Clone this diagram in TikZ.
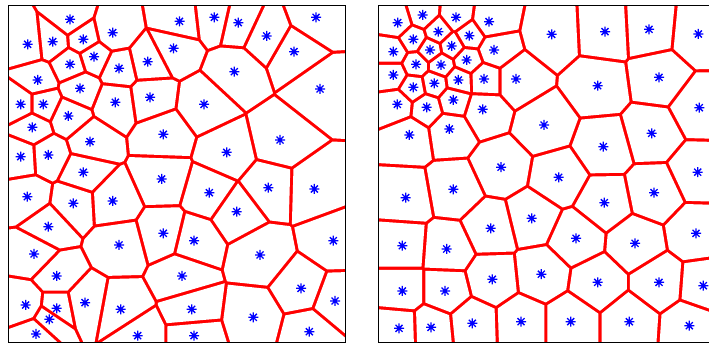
\documentclass[tikz,border=0pt]{standalone}
\tikzset{
  vorline/.style={fill={rgb,255:red,255;green,0;blue,0}},
  cellfill/.style={fill=white},
  panelframe/.style={draw=black, line width=1pt},
  asterisk/.style={draw={rgb,255:red,0;green,0;blue,255}, line width=1.35pt},
}
\def\hw{1.6}
\def\leftsites{70/19.3, 27.7/44.3, 52.7/41.7, 83.3/39.3, 112.7/32.7, 173.5/48.3, 179.5/21.3, 94/56.7, 70/64.3, 119/68.3, 147.7/61.7, 37.7/80, 80/88.3, 20.7/104.3, 43.3/104.3, 115.3/102.3, 150/97.3, 68.3/116, 32.3/127.3, 163.3/134.3, 90/141.7, 20.7/156.7, 48.3/155, 83.3/172.3, 161.7/179, 214.3/17.3, 238.3/22.7, 266.7/36, 316/17.3, 294/51.7, 234.3/71.7, 320/89, 204/104.3, 280/140, 226.7/152.3, 27.3/196.7, 73.3/203.3, 112.7/201, 48.3/226.7, 163.3/233.3, 119/245, 34/254, 56.7/276, 182/276, 25.7/305, 56.7/308.3, 85/302.7, 120.7/309.3, 49.3/319.3, 36/334, 137.7/335.7, 209.3/192.7, 268.3/187.7, 314.3/189, 236.7/211.7, 194/240.7, 333.3/240.7, 260/255, 301/288.3, 335/301, 191.7/309.3, 253.3/317.3, 194/335.7, 309.3/331.7}
\def\rightsites{397.7/22.7, 422.7/15, 456/17.3, 489/21.7, 413.3/39.3, 438.3/31.7, 469.3/35.7, 393.3/51.7, 430/50, 451.7/46, 494/50, 416/64.3, 441/65, 466.7/60, 393.3/75, 413.3/87.3, 434.3/83.3, 458.3/80, 484/79, 516/79, 397.3/104.3, 426.7/107.3, 453.3/100, 482.7/109.3, 544/125, 409.3/135, 449.3/129, 501/167.2, 551.7/34.3, 605/31.7, 649/29.3, 698.3/34, 597.7/85.7, 659/77.3, 699.3/107.7, 651.7/133.3, 603.3/146.7, 558.7/177.3, 697.7/172.2, 453.3/189.3, 405.7/197.7, 531.7/218.3, 490.7/228.3, 402.3/245.7, 446.7/249, 541.3/274.2, 492.3/279.3, 402.3/291, 445/291, 399/328.3, 431/327.3, 472.3/323.3, 521/321.7, 654/192.7, 604.3/202.7, 576/238.3, 635/243.3, 696/233.3, 597.7/282.3, 659/282.3, 703.3/285.7, 570.7/321.7, 629.3/321.7, 689.3/325.7}
\newcommand\vorcells[5]{%
  \fill[vorline] (#2,#3) rectangle (#4,#5);
  \foreach \xa/\ya in #1 {%
    \begin{scope}
      \clip (#2,#3) rectangle (#4,#5);
      \foreach \xb/\yb in #1 {%
        \pgfmathsetmacro\vdd{abs(\xb-\xa)+abs(\yb-\ya)}%
        \ifdim\vdd pt>0.01pt
         \ifdim\vdd pt<420pt
          \pgfmathsetmacro\vdx{(\xb-\xa)/100}%
          \pgfmathsetmacro\vdy{(\yb-\ya)/100}%
          \pgfmathsetmacro\vlen{sqrt(\vdx*\vdx+\vdy*\vdy)}%
          \pgfmathsetmacro\vux{\vdx/\vlen}%
          \pgfmathsetmacro\vuy{\vdy/\vlen}%
          \pgfmathsetmacro\vmx{(\xa+\xb)/2-\hw*\vux}%
          \pgfmathsetmacro\vmy{(\ya+\yb)/2-\hw*\vuy}%
          \clip ({\vmx-1000*\vuy},{\vmy+1000*\vux}) -- ({\vmx+1000*\vuy},{\vmy-1000*\vux}) -- ({\vmx-1000*\vux},{\vmy-1000*\vuy}) -- cycle;
         \fi
        \fi
      }%
      \fill[cellfill] (#2,#3) rectangle (#4,#5);
    \end{scope}
  }%
  \foreach \xa/\ya in #1 {%
    \path[asterisk] (\xa,\ya) +(-5,0) -- +(5,0) +(0,-5) -- +(0,5) +(-3.5,-3.5) -- +(3.5,3.5) +(-3.5,3.5) -- +(3.5,-3.5);
  }%
  \draw[panelframe] (#2,#3) rectangle (#4,#5);
}
\begin{document}
\begin{tikzpicture}[x=1pt,y=-1pt]
\useasboundingbox (0,0) rectangle (709,344);
\fill[white] (0,0) rectangle (709,344);
\vorcells{\leftsites}{8.5}{6}{345.7}{342.7}
\vorcells{\rightsites}{378.3}{6}{715.3}{342.7}
\end{tikzpicture}
\end{document}
